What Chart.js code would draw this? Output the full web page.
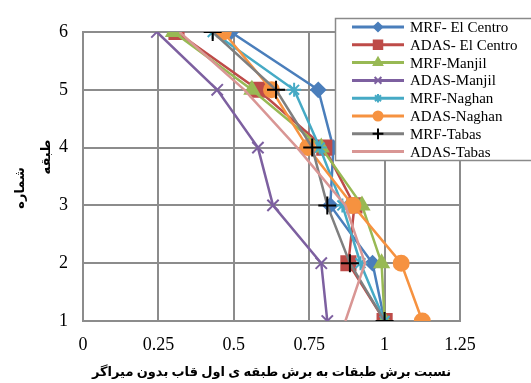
<!DOCTYPE html>
<html>
<head>
<meta charset="utf-8">
<script src="https://cdn.jsdelivr.net/npm/chart.js@4"></script>
<style>
  body { margin: 0; background: #fff; }
  #wrap { width: 531px; height: 383px; }
</style>
</head>
<body>
<div id="wrap"><canvas id="storyChart" width="531" height="383"></canvas></div>
<script>
const stories = [1, 2, 3, 4, 5, 6];
const xTicks = [0, 0.25, 0.5, 0.75, 1, 1.25];
const seriesNames = ["MRF- El Centro", "ADAS- El Centro", "MRF-Manjil", "ADAS-Manjil",
  "MRF-Naghan", "ADAS-Naghan", "MRF-Tabas", "ADAS-Tabas"];

const mrfElCentro = [1.0, 0.96, 0.82, 0.83, 0.78, 0.49];
const adasElCentro = [1.0, 0.88, 0.90, 0.80, 0.58, 0.31];
const mrfManjil = [1.0, 0.99, 0.925, 0.79, 0.56, 0.30];
const adasManjil = [0.81, 0.79, 0.63, 0.58, 0.445, 0.245];
const mrfNaghan = [1.0, 0.92, 0.86, 0.785, 0.70, 0.43];
const adasNaghan = [1.125, 1.055, 0.895, 0.745, 0.625, 0.465];
const mrfTabas = [1.0, 0.885, 0.81, 0.76, 0.64, 0.43];
const adasTabas = [0.87, 0.935, 0.87, 0.71, 0.535, 0.32];

const xTitle = "نسبت برش طبقات به برش طبقه ی اول قاب بدون میراگر";
const yTitle = ["طبقه", "شماره"];

const allValues = [mrfElCentro, adasElCentro, mrfManjil, adasManjil, mrfNaghan, adasNaghan, mrfTabas, adasTabas];
const styles = [
  { color: "#4A7EBB", point: "rectRot", r: 7, pc: "#4A7EBB" },
  { color: "#BE4B48", point: "rect", r: 10, pc: "#BE4B48" },
  { color: "#98B954", point: "triangle", r: 8, pc: "#98B954" },
  { color: "#7D60A0", point: "crossRot", r: 8, pc: "#7D60A0" },
  { color: "#46AAC5", point: "star", r: 7, pc: "#46AAC5" },
  { color: "#F69240", point: "circle", r: 7.5, pc: "#F69240" },
  { color: "#7F7F7F", point: "cross", r: 9, pc: "#000000" },
  { color: "#D99694", point: false, r: 0, pc: "#D99694" }
];

const datasets = allValues.map((vals, i) => ({
  label: seriesNames[i],
  data: stories.map((s, k) => ({ x: vals[k], y: s })),
  borderColor: styles[i].color,
  backgroundColor: styles[i].pc,
  borderWidth: 2.5,
  pointStyle: styles[i].point,
  pointRadius: styles[i].r,
  pointBorderColor: styles[i].pc,
  pointBackgroundColor: styles[i].pc,
  pointBorderWidth: 2,
  showLine: true,
  tension: 0,
  order: 8 - i
}));

// legend box drawn over the plot, like the original
const boxLegend = {
  id: "boxLegend",
  afterDraw(chart) {
    const ctx = chart.ctx;
    ctx.save();
    ctx.fillStyle = "#fff";
    ctx.fillRect(335, 18, 200, 142);
    ctx.strokeStyle = "#8a8a8a";
    ctx.lineWidth = 1.5;
    ctx.strokeRect(335.5, 18.5, 200, 142);
    chart.data.datasets.forEach((ds, i) => {
      const y = 27 + i * 17.8;
      ctx.strokeStyle = ds.borderColor;
      ctx.lineWidth = 3;
      ctx.beginPath();
      ctx.moveTo(352, y);
      ctx.lineTo(404, y);
      ctx.stroke();
      if (ds.pointStyle) {
        ctx.fillStyle = ds.pointBackgroundColor;
        ctx.strokeStyle = ds.pointBorderColor;
        ctx.lineWidth = 2;
        Chart.helpers.drawPoint(ctx, { pointStyle: ds.pointStyle, radius: ds.pointRadius * 0.6, borderWidth: 2 }, 378, y);
      }
      ctx.fillStyle = "#000";
      ctx.font = "15px 'Liberation Serif'";
      ctx.textBaseline = "middle";
      ctx.textAlign = "left";
      ctx.fillText(ds.label, 410, y + 1);
    });
    // y axis title, two lines
    ctx.font = "bold 13px 'Liberation Serif', 'DejaVu Sans'";
    ctx.textAlign = "center";
    ctx.textBaseline = "middle";
    ctx.translate(47, 157);
    ctx.rotate(-Math.PI / 2);
    ctx.fillText(yTitle[0], 0, 0);
    ctx.rotate(Math.PI / 2);
    ctx.translate(-26, 31);
    ctx.rotate(-Math.PI / 2);
    ctx.fillText(yTitle[1], 0, 0);
    ctx.restore();
  }
};

new Chart(document.getElementById("storyChart"), {
  type: "scatter",
  data: { datasets },
  plugins: [boxLegend],
  options: {
    responsive: false,
    animation: false,
    layout: { padding: { top: 32, right: 71, left: 0, bottom: 0 } },
    plugins: { legend: { display: false }, tooltip: { enabled: false } },
    scales: {
      x: {
        type: "linear",
        min: 0,
        max: 1.25,
        afterBuildTicks: (s) => { s.ticks = xTicks.map((v) => ({ value: v })); },
        afterFit: (s) => { s.height = 62; },
        grid: { color: "#8c8c8c", lineWidth: 2, drawTicks: false },
        border: { color: "#8c8c8c", width: 2 },
        ticks: {
          color: "#000", padding: 13,
          font: { family: "'Liberation Serif'", size: 18 },
          callback: (v) => String(v)
        },
        title: {
          display: true,
          text: xTitle,
          color: "#000",
          padding: { top: 0, bottom: 3 },
          font: { family: "'Liberation Serif', 'DejaVu Sans'", size: 13, weight: "bold" }
        }
      },
      y: {
        type: "linear",
        min: 1,
        max: 6,
        afterBuildTicks: (s) => { s.ticks = stories.map((v) => ({ value: v })); },
        afterFit: (s) => { s.width = 83; },
        grid: { color: "#8c8c8c", lineWidth: 2, drawTicks: false },
        border: { color: "#8c8c8c", width: 2 },
        ticks: {
          color: "#000", padding: 15,
          font: { family: "'Liberation Serif'", size: 18 },
          callback: (v) => String(v)
        }
      }
    }
  }
});
</script>
</body>
</html>
